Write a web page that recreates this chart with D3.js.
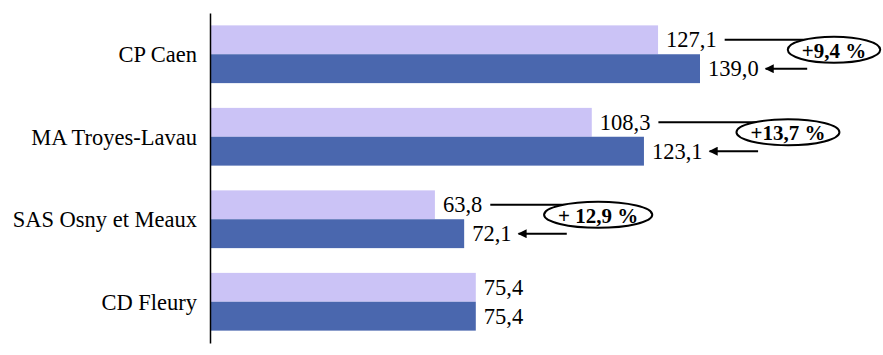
<!DOCTYPE html>
<html>
<head>
<meta charset="utf-8">
<script src="https://cdn.jsdelivr.net/npm/d3@7"></script>
<style>
  body { margin: 0; background: #fff; }
  svg text { font-family: "Liberation Serif", "DejaVu Serif", serif; }
</style>
</head>
<body>
<div id="chart"></div>
<script>
  var categories = ["CP Caen", "MA Troyes-Lavau", "SAS Osny et Meaux", "CD Fleury"];
  var seriesNames = ["avant", "apres"];
  var valuesBefore = [127.1, 108.3, 63.8, 75.4];
  var valuesAfter = [139.0, 123.1, 72.1, 75.4];
  var changeLabels = ["+9,4 %", "+13,7 %", "+ 12,9 %", null];
  // layout only: pixel offset of each bubble centre from the end of the "after" bar
  var bubbleShift = [134, 144, 134, 0];

  var colors = { avant: "#cbc3f6", apres: "#4a67ae" };
  var width = 883, height = 355;
  var serif = "'Liberation Serif', 'DejaVu Serif', serif";

  var svg = d3.select("#chart").append("svg")
    .attr("width", width)
    .attr("height", height);

  svg.append("defs").append("marker")
    .attr("id", "arrow")
    .attr("viewBox", "0 0 10 10")
    .attr("refX", 9).attr("refY", 5)
    .attr("markerWidth", 11).attr("markerHeight", 9)
    .attr("markerUnits", "userSpaceOnUse")
    .attr("orient", "auto")
    .append("path")
    .attr("d", "M0,0 L10,5 L0,10 Z")
    .attr("fill", "#000");

  var x = d3.scaleLinear().domain([0, 139.0]).range([210, 700]);
  var y = d3.scaleBand().domain(categories).range([13, 343])
    .paddingInner(0.3).paddingOuter(0.15);
  var ySub = d3.scaleBand().domain(seriesNames).range([0, y.bandwidth()]);

  var rows = categories.map(function(c, i) {
    return { cat: c, avant: valuesBefore[i], apres: valuesAfter[i], change: changeLabels[i], shift: bubbleShift[i] };
  });

  var groups = svg.selectAll("g.row")
    .data(rows)
    .enter()
    .append("g")
    .attr("class", "row")
    .attr("transform", function(d) { return "translate(0," + y(d.cat) + ")"; });

  seriesNames.forEach(function(s) {
    groups.append("rect")
      .attr("x", x(0))
      .attr("y", ySub(s))
      .attr("width", function(d) { return x(d[s]) - x(0); })
      .attr("height", ySub.bandwidth())
      .attr("fill", colors[s]);

    groups.append("text")
      .attr("class", "val-" + s)
      .attr("x", function(d) { return x(d[s]) + 8; })
      .attr("y", ySub(s) + ySub.bandwidth() / 2)
      .attr("dy", "0.33em")
      .style("font-family", serif)
      .style("font-size", "22.5px")
      .text(function(d) { return d3.format(".1f")(d[s]).replace(".", ","); });
  });

  // annotations
  groups.filter(function(d) { return d.change; }).each(function(d) {
    var g = d3.select(this);
    var topLabel = g.select(".val-avant").node();
    var botLabel = g.select(".val-apres").node();
    var topEnd = x(d.avant) + 8 + topLabel.getComputedTextLength();
    var botEnd = x(d.apres) + 8 + botLabel.getComputedTextLength();
    var yTop = ySub("avant") + ySub.bandwidth() / 2;
    var yBot = ySub("apres") + ySub.bandwidth() / 2;
    var cy = ySub("apres") - 4.5;
    var cx = x(d.apres) + d.shift;

    var lines = g.append("g");
    var bubble = g.append("g");

    var txt = bubble.append("text")
      .attr("x", cx).attr("y", cy)
      .attr("text-anchor", "middle")
      .attr("dy", "0.38em")
      .style("font-family", serif)
      .style("font-size", "21px")
      .style("font-weight", "bold")
      .text(d.change);
    var tw = txt.node().getComputedTextLength();
    var rx = tw / 2 + 14, ry = 13;

    lines.append("line")
      .attr("x1", topEnd + 8)
      .attr("x2", cx)
      .attr("y1", yTop).attr("y2", yTop)
      .attr("stroke", "#000").attr("stroke-width", 2);

    lines.append("line")
      .attr("x1", cx - rx * 0.58)
      .attr("x2", botEnd + 7)
      .attr("y1", yBot).attr("y2", yBot)
      .attr("stroke", "#000").attr("stroke-width", 2)
      .attr("marker-end", "url(#arrow)");

    bubble.insert("ellipse", "text")
      .attr("cx", cx).attr("cy", cy)
      .attr("rx", rx).attr("ry", ry)
      .attr("fill", "#fff")
      .attr("stroke", "#000").attr("stroke-width", 2);
  });

  // category axis
  var axis = svg.append("g")
    .attr("transform", "translate(" + x(0) + ",0)")
    .call(d3.axisLeft(y).tickSize(0).tickSizeOuter(0).tickPadding(13));
  axis.attr("font-family", null);
  axis.select(".domain").attr("stroke", "#000").attr("stroke-width", 1.5);
  axis.selectAll(".tick text")
    .attr("fill", "#000")
    .attr("dy", "0.35em")
    .style("font-size", "22.5px")
    .style("font-family", serif);
</script>
</body>
</html>
